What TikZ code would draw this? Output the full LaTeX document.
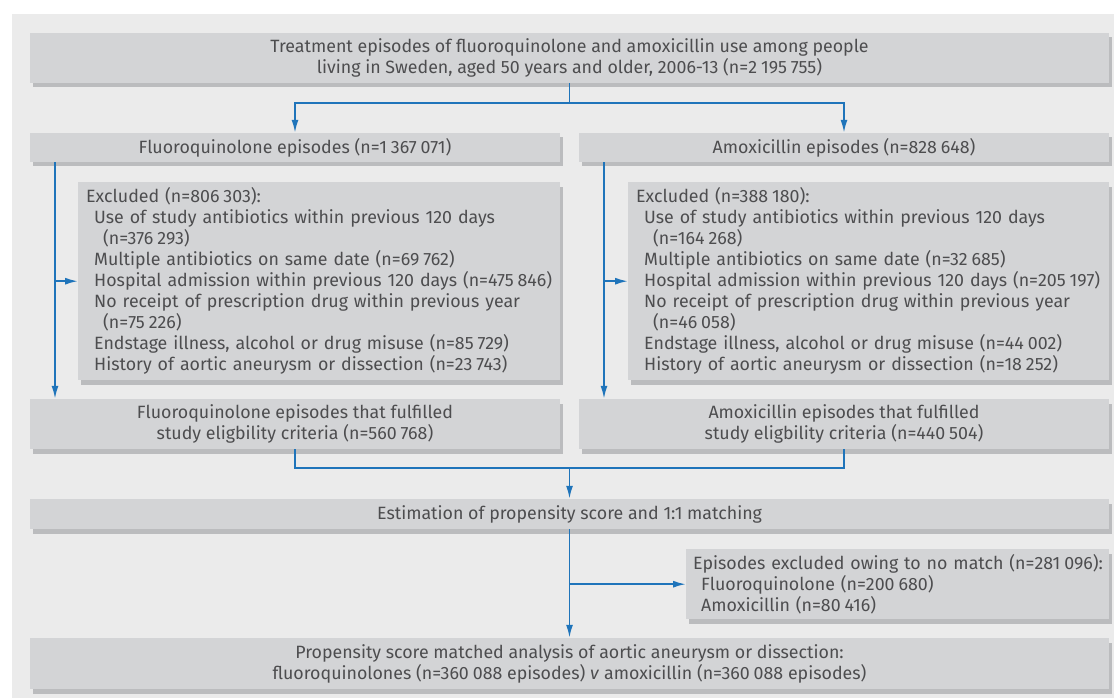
\documentclass[tikz,border=0pt]{standalone}
\usepackage{fontspec}
\setmainfont{Fira Sans}
\usetikzlibrary{arrows.meta,shadows}

\definecolor{bggrey}{HTML}{EBEBEB}
\definecolor{boxgrey}{HTML}{D3D4D6}
\definecolor{shadowgrey}{HTML}{BBBCBE}
\definecolor{textgrey}{HTML}{4D4D4F}
\definecolor{flowblue}{HTML}{1F74BA}

% gap inside large numbers
\newcommand{\numgap}{\hspace{0.22em}}

\tikzset{
  box/.style={fill=boxgrey, text=textgrey, inner sep=0pt, align=center,
    font=\fontsize{17.8}{21}\selectfont,
    drop shadow={shadow xshift=3pt, shadow yshift=-4.5pt, fill=shadowgrey, opacity=1}},
  exbox/.style={box, align=left, anchor=north west, inner xsep=8pt,
    text width=466pt, minimum height=198pt},
  line/.style={flowblue, line width=1.8pt},
  arrow/.style={line, -{Latex[length=13pt,width=7pt]}},
}

\begin{document}
\begin{tikzpicture}[x=1pt, y=-1pt]

\useasboundingbox (0,0) rectangle (1114,698);
\fill[bggrey] (12,14) rectangle (1114,698);

\node[box, minimum width=1079pt, minimum height=50pt] (treat) at (569.5,58)
  {Treatment episodes of fluoroquinolone and amoxicillin use among people\\
   living in Sweden, aged 50 years and older, 2006-13 (n=2\numgap195\numgap755)};

\node[box, minimum width=530pt, minimum height=29pt] (fq) at (295,147.5)
  {Fluoroquinolone episodes (n=1\numgap367\numgap071)};
\node[box, minimum width=530pt, minimum height=29pt] (amx) at (844,147.5)
  {Amoxicillin episodes (n=828\numgap648)};

\node[exbox] (fqex) at (78,182)
  {Excluded (n=806\numgap303):\\
   \hspace*{8pt}Use of study antibiotics within previous 120 days\\
   \hspace*{17pt}(n=376\numgap293)\\
   \hspace*{8pt}Multiple antibiotics on same date (n=69\numgap762)\\
   \hspace*{8pt}\mbox{Hospital admission within previous 120 days (n=475\numgap846)}\\
   \hspace*{8pt}No receipt of prescription drug within previous year\\
   \hspace*{17pt}(n=75\numgap226)\\
   \hspace*{8pt}Endstage illness, alcohol or drug misuse (n=85\numgap729)\\
   \hspace*{8pt}History of aortic aneurysm or dissection (n=23\numgap743)};
\node[exbox, text width=465pt] (amxex) at (628,182)
  {Excluded (n=388\numgap180):\\
   \hspace*{8pt}Use of study antibiotics within previous 120 days\\
   \hspace*{17pt}(n=164\numgap268)\\
   \hspace*{8pt}Multiple antibiotics on same date (n=32\numgap685)\\
   \hspace*{8pt}\mbox{Hospital admission within previous 120 days (n=205\numgap197)}\\
   \hspace*{8pt}No receipt of prescription drug within previous year\\
   \hspace*{17pt}(n=46\numgap058)\\
   \hspace*{8pt}Endstage illness, alcohol or drug misuse (n=44\numgap002)\\
   \hspace*{8pt}History of aortic aneurysm or dissection (n=18\numgap252)};

\node[box, minimum width=530pt, minimum height=50pt] (fqel) at (295,424)
  {Fluoroquinolone episodes that fulfilled\\study eligbility criteria (n=560\numgap768)};
\node[box, minimum width=530pt, minimum height=50pt] (amxel) at (844,424)
  {Amoxicillin episodes that fulfilled\\study eligbility criteria (n=440\numgap504)};

\node[box, minimum width=1079pt, minimum height=30pt] (est) at (569.5,514)
  {Estimation of propensity score and 1:1 matching};

\node[exbox, inner xsep=7pt, text width=409pt, minimum height=70pt] (nomatch) at (686,549)
  {\mbox{Episodes excluded owing to no match (n=281\numgap096):}\\
   \hspace*{8pt}Fluoroquinolone (n=200\numgap680)\\
   \hspace*{8pt}Amoxicillin (n=80\numgap416)};

\node[box, minimum width=1079pt, minimum height=51pt] (final) at (569.5,663.5)
  {Propensity score matched analysis of aortic aneurysm or dissection:\\
   fluoroquinolones (n=360\numgap088 episodes) \textit{v} amoxicillin (n=360\numgap088 episodes)};

% split into the two drugs
\coordinate (split) at (569.5,103);
\draw[line] (treat.south) -- (split);
\draw[arrow] (split) -| (fq.north);
\draw[arrow] (split) -| (amx.north);

% exclusions
\coordinate (fqrail) at (55,0);
\coordinate (amxrail) at (604,0);
\draw[arrow] (fqrail |- fq.south) -- (fqrail |- fqel.north);
\draw[arrow] (fqrail |- fqex.west) -- (fqex.west);
\draw[arrow] (amxrail |- amx.south) -- (amxrail |- amxel.north);
\draw[arrow] (amxrail |- amxex.west) -- (amxex.west);

% matching
\coordinate (merge) at (569.5,468);
\draw[line] (fqel.south) |- (merge) -| (amxel.south);
\draw[arrow] (merge) -- (est.north);
\draw[arrow] (est.south) -- (final.north);
\draw[arrow] (est.south |- nomatch.west) -- (nomatch.west);

\end{tikzpicture}
\end{document}
